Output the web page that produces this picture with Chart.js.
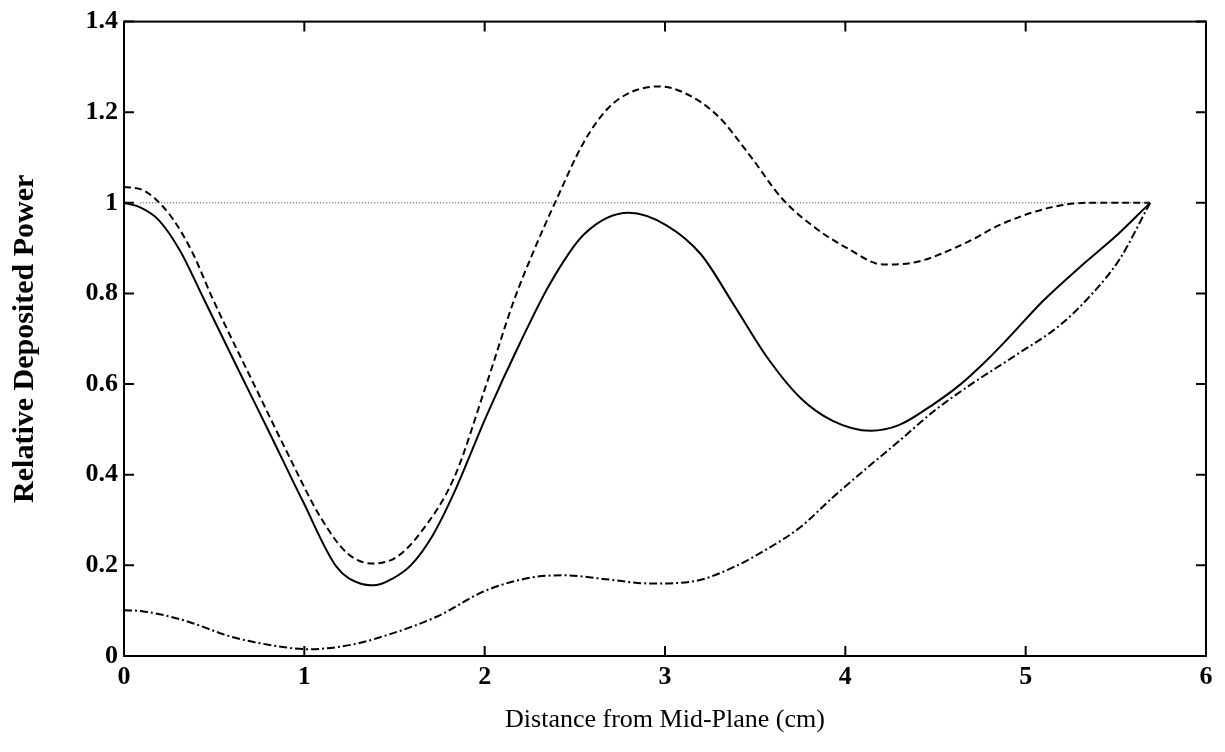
<!DOCTYPE html>
<html>
<head>
<meta charset="utf-8">
<script src="https://cdn.jsdelivr.net/npm/chart.js@4/dist/chart.umd.min.js"></script>
<style>
    body { margin: 0; background: #fff; }
    #wrap { width: 1225px; height: 752px; }
</style>
</head>
<body>
<div id="wrap"><canvas id="powerChart" width="1225" height="752"></canvas></div>
<script>
// solid curve
const solidX = [0, 0.09, 0.19, 0.31, 0.44, 0.63, 0.81, 0.99, 1.18, 1.31, 1.39, 1.49, 1.59, 1.71, 1.83, 2.01, 2.20, 2.36, 2.55, 2.80, 3.01, 3.20, 3.38, 3.57, 3.75, 3.93, 4.14, 4.30, 4.49, 4.64, 4.79, 4.90, 5.10, 5.32, 5.51, 5.69];
const solidY = [1.0, 0.99, 0.963, 0.895, 0.79, 0.635, 0.49, 0.343, 0.196, 0.16, 0.156, 0.171, 0.2, 0.265, 0.36, 0.53, 0.694, 0.82, 0.93, 0.978, 0.95, 0.886, 0.776, 0.657, 0.57, 0.519, 0.497, 0.51, 0.556, 0.60, 0.655, 0.70, 0.785, 0.865, 0.93, 1.0];

// dashed curve
const dashX = [0, 0.1, 0.17, 0.27, 0.38, 0.49, 0.72, 0.90, 1.09, 1.24, 1.38, 1.51, 1.64, 1.83, 2.01, 2.16, 2.27, 2.40, 2.55, 2.68, 2.81, 2.97, 3.10, 3.29, 3.47, 3.65, 3.84, 4.01, 4.21, 4.40, 4.68, 4.86, 5.14, 5.34, 5.69];
const dashY = [1.035, 1.029, 1.01, 0.965, 0.89, 0.79, 0.60, 0.453, 0.306, 0.226, 0.204, 0.218, 0.27, 0.393, 0.6, 0.782, 0.892, 1.009, 1.134, 1.207, 1.244, 1.257, 1.244, 1.193, 1.105, 1.009, 0.943, 0.9, 0.864, 0.87, 0.914, 0.952, 0.99, 1.0, 1.0];

// dash-dot curve
const dotDashX = [0, 0.1, 0.33, 0.6, 0.88, 1.03, 1.25, 1.45, 1.73, 2.01, 2.29, 2.45, 2.64, 2.92, 3.16, 3.38, 3.57, 3.75, 3.93, 4.12, 4.30, 4.49, 4.68, 4.95, 5.19, 5.37, 5.52, 5.69];
const dotDashY = [0.101, 0.099, 0.079, 0.042, 0.02, 0.015, 0.024, 0.045, 0.086, 0.145, 0.175, 0.178, 0.171, 0.16, 0.165, 0.196, 0.237, 0.284, 0.35, 0.415, 0.475, 0.54, 0.595, 0.665, 0.73, 0.80, 0.875, 1.0];

// reference line at 1
const refX = [0.09, 5.69];
const refY = [1, 1];

const toPoints = (xs, ys) => xs.map((x, i) => ({ x: x, y: ys[i] }));

// frame + inward tick marks on all four sides
const framePlugin = {
    id: 'frame',
    afterDatasetsDraw(chart) {
        const { ctx, chartArea: a, scales } = chart;
        ctx.save();
        ctx.strokeStyle = '#000';
        ctx.lineWidth = 2;
        ctx.strokeRect(a.left, a.top, a.right - a.left, a.bottom - a.top);
        ctx.beginPath();
        scales.x.ticks.forEach(t => {
            const px = scales.x.getPixelForValue(t.value);
            ctx.moveTo(px, a.bottom); ctx.lineTo(px, a.bottom - 10);
            ctx.moveTo(px, a.top); ctx.lineTo(px, a.top + 10);
        });
        scales.y.ticks.forEach(t => {
            const py = scales.y.getPixelForValue(t.value);
            ctx.moveTo(a.left, py); ctx.lineTo(a.left + 10, py);
            ctx.moveTo(a.right, py); ctx.lineTo(a.right - 10, py);
        });
        ctx.stroke();
        ctx.restore();
    }
};

const ctx = document.getElementById('powerChart').getContext('2d');
new Chart(ctx, {
    type: 'line',
    data: {
        datasets: [{
            data: toPoints(refX, refY),
            borderColor: '#333',
            borderWidth: 1,
            borderDash: [1, 2],
            pointRadius: 0
        }, {
            data: toPoints(solidX, solidY),
            borderColor: '#000',
            borderWidth: 2,
            pointRadius: 0,
            cubicInterpolationMode: 'monotone'
        }, {
            data: toPoints(dashX, dashY),
            borderColor: '#000',
            borderWidth: 2,
            borderDash: [7, 4],
            pointRadius: 0,
            cubicInterpolationMode: 'monotone'
        }, {
            data: toPoints(dotDashX, dotDashY),
            borderColor: '#000',
            borderWidth: 2,
            borderDash: [8, 3, 2, 3],
            pointRadius: 0,
            cubicInterpolationMode: 'monotone'
        }]
    },
    options: {
        responsive: false,
        animation: false,
        layout: { padding: { left: 0, right: 19, top: 18, bottom: 0 } },
        plugins: { legend: { display: false }, tooltip: { enabled: false } },
        scales: {
            x: {
                type: 'linear',
                min: 0,
                max: 6,
                afterFit: s => { s.height = 96; },
                grid: { display: false, drawTicks: false },
                border: { display: false },
                ticks: {
                    stepSize: 1,
                    padding: 6,
                    color: '#000',
                    font: { family: 'Liberation Serif', size: 26, weight: 'bold' }
                },
                title: {
                    display: true,
                    text: 'Distance from Mid-Plane (cm)',
                    color: '#000',
                    font: { family: 'Liberation Serif', size: 26 },
                    padding: { top: 0, bottom: 16 }
                }
            },
            y: {
                min: 0,
                max: 1.4,
                afterFit: s => { s.width = 124; },
                grid: { display: false, drawTicks: false },
                border: { display: false },
                ticks: {
                    stepSize: 0.2,
                    padding: 6,
                    color: '#000',
                    font: { family: 'Liberation Serif', size: 26, weight: 'bold' },
                    callback: v => Number(v.toFixed(1)).toString()
                },
                title: {
                    display: true,
                    text: 'Relative Deposited Power',
                    color: '#000',
                    font: { family: 'Liberation Serif', size: 30, weight: 'bold' },
                    padding: { top: 7, bottom: 0 }
                }
            }
        }
    },
    plugins: [framePlugin]
});
</script>
</body>
</html>
